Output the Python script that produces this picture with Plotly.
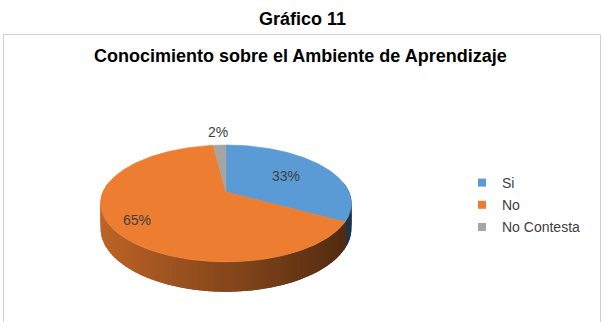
import numpy as np
import plotly.graph_objects as go

# ---- data ----
categories = ["Si", "No", "No Contesta"]
values = [33, 65, 2]
colors = ["#5B9BD5", "#ED7D31", "#A5A5A5"]
main_title = "Gráfico 11"
chart_title = "Conocimiento sobre el Ambiente de Aprendizaje"

# ---- geometry (pixel space) ----
W, H = 604, 322
CX, CY = 226, 192
RX, RY = 123, 56.2
K = 0.196          # perspective strength
DEPTH = 24         # pie thickness
label_r = [0.6, 0.8, 1.35]
FONT = "Liberation Sans, Arial, sans-serif"


def proj(theta, r=1.0):
    u = r * np.sin(theta)
    v = -r * np.cos(theta)
    s = 1.0 / (1.0 - K * v)
    return CX + RX * u * s, CY + RY * v * s, s


def hex2rgb(h):
    h = h.lstrip("#")
    return [int(h[i:i + 2], 16) for i in (0, 2, 4)]


def shade(hexc, f):
    r, g, b = hex2rgb(hexc)
    return f"rgb({int(r*f)},{int(g*f)},{int(b*f)})"


total = float(sum(values))
fracs = [v / total for v in values]
bounds = np.concatenate([[0], np.cumsum(fracs)]) * 2 * np.pi

fig = go.Figure()

# ---- side walls ----
vis_lo, vis_hi = np.radians(80), np.radians(280)
strips = []
for i, c in enumerate(colors):
    a0, a1 = max(bounds[i], vis_lo), min(bounds[i + 1], vis_hi)
    if a1 <= a0:
        continue
    n = max(2, int(np.degrees(a1 - a0) / 2))
    edges = np.linspace(a0, a1, n + 1)
    step = edges[1] - edges[0]
    for j in range(n):
        t1 = edges[j] - 0.6 * step
        t2 = edges[j + 1] + 0.6 * step
        t1, t2 = max(t1, vis_lo), min(t2, vis_hi)
        ts = np.linspace(t1, t2, 5)
        xt, yt, st = proj(ts)
        yb = yt + DEPTH * st
        xs = np.concatenate([xt, xt[::-1]])
        ys = np.concatenate([yt, yb[::-1]])
        xm = xt.mean()
        t = (xm - (CX - RX)) / (2 * RX)
        f = 0.80 - 0.46 * t
        v_mid = -np.cos((edges[j] + edges[j + 1]) / 2)
        strips.append((v_mid, xs, ys, shade(c, f)))

strips.sort(key=lambda s: s[0])
for _, xs, ys, col in strips:
    fig.add_trace(go.Scatter(x=xs, y=ys, mode="lines", fill="toself",
                             fillcolor=col, line=dict(width=0),
                             hoverinfo="skip", showlegend=False))

# ---- top faces ----
for i, c in enumerate(colors):
    ts = np.linspace(bounds[i], bounds[i + 1], max(3, int(np.degrees(bounds[i + 1] - bounds[i])) + 2))
    xa, ya, _ = proj(ts)
    xs = np.concatenate([[CX], xa, [CX]])
    ys = np.concatenate([[CY], ya, [CY]])
    fig.add_trace(go.Scatter(x=xs, y=ys, mode="lines", fill="toself",
                             fillcolor=c, line=dict(color=c, width=0.6),
                             hoverinfo="skip", showlegend=False))

# ---- percent labels ----
for i, c in enumerate(categories):
    mid = (bounds[i] + bounds[i + 1]) / 2
    lx, ly, _ = proj(mid, label_r[i])
    fig.add_annotation(x=lx, y=ly, text=f"{round(fracs[i]*100)}%", showarrow=False,
                       font=dict(family=FONT, size=14, color="#404040"))

# ---- legend entries ----
for i, c in enumerate(categories):
    fig.add_trace(go.Scatter(x=[None], y=[None], mode="markers", name=c,
                             legendgroup=c,
                             marker=dict(symbol="square", size=8, color=colors[i])))

# ---- titles ----
fig.add_annotation(x=302, y=19, text=f"<b>{main_title}</b>", showarrow=False,
                   font=dict(family=FONT, size=18, color="#000000"))
fig.add_annotation(x=300, y=56, text=f"<b>{chart_title}</b>", showarrow=False,
                   font=dict(family=FONT, size=18, color="#000000"))

# ---- chart frame ----
fig.add_shape(type="rect", x0=3.5, x1=600.5, y0=34.5, y1=345,
              line=dict(color="#D0D0D0", width=1), layer="below")

fig.update_layout(
    width=W, height=H,
    margin=dict(l=0, r=0, t=0, b=0),
    paper_bgcolor="white", plot_bgcolor="white",
    xaxis=dict(range=[0, W], visible=False, fixedrange=True),
    yaxis=dict(range=[H, 0], visible=False, fixedrange=True),
    legend=dict(x=462 / W, y=1 - 167 / H, xanchor="left", yanchor="top",
                font=dict(family=FONT, size=14, color="#404040"),
                tracegroupgap=1, itemwidth=30, bgcolor="rgba(0,0,0,0)"),
    showlegend=True,
)

fig.write_html("out.html")
